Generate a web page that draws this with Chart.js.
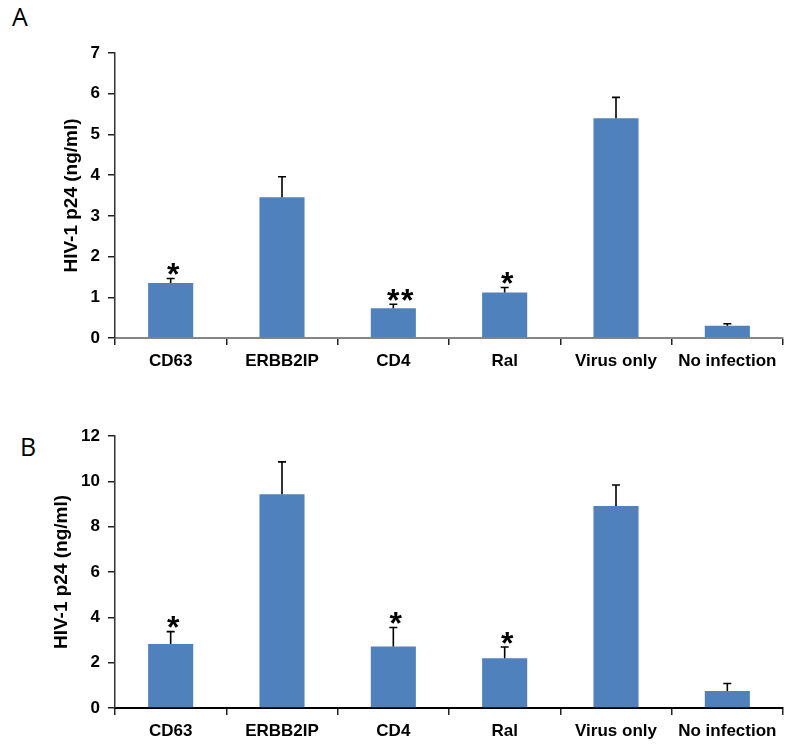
<!DOCTYPE html>
<html>
<head>
<meta charset="utf-8">
<script src="https://cdn.jsdelivr.net/npm/chart.js@4"></script>
<style>
  html, body { margin: 0; padding: 0; background: #fff; }
  body { width: 800px; height: 749px; position: relative; overflow: hidden; }
  .panel { position: absolute; left: 0; width: 800px; }
  .letter { position: absolute; font-family: "Open Sans", sans-serif; font-size: 25px; line-height: 25px; color: #000; }
</style>
</head>
<body>
<div class="letter" style="left:12px; top:4px;">A</div>
<div class="letter" style="left:20px; top:434px;">B</div>
<div class="panel" style="top:0; height:375px;"><canvas id="chartA" width="800" height="375"></canvas></div>
<div class="panel" style="top:375px; height:374px;"><canvas id="chartB" width="800" height="374"></canvas></div>
<script>
const categories = ["CD63", "ERBB2IP", "CD4", "Ral", "Virus only", "No infection"];
const valuesA = [1.35, 3.46, 0.73, 1.12, 5.40, 0.30];
const errorsA = [0.11, 0.50, 0.10, 0.12, 0.51, 0.05];
const starsA  = ["*", "", "**", "*", "", ""];
const valuesB = [2.82, 9.43, 2.71, 2.19, 8.91, 0.75];
const errorsB = [0.55, 1.43, 0.84, 0.50, 0.93, 0.33];
const starsB  = ["*", "", "*", "*", "", ""];
const yTitle = "HIV-1 p24 (ng/ml)";

const errPlugin = {
  id: 'errbars',
  afterDatasetsDraw(chart, args, opts) {
    const ctx = chart.ctx;
    const y = chart.scales.y;
    const meta = chart.getDatasetMeta(0);
    ctx.save();
    ctx.strokeStyle = '#000';
    ctx.lineWidth = 1.6;
    opts.values.forEach((v, i) => {
      const cx = meta.data[i].x;
      const y0 = y.getPixelForValue(v);
      const y1 = y.getPixelForValue(v + opts.errors[i]);
      ctx.beginPath();
      ctx.moveTo(cx, y0); ctx.lineTo(cx, y1);
      ctx.moveTo(cx - 4, y1); ctx.lineTo(cx + 4, y1);
      ctx.stroke();
      const s = opts.stars[i];
      if (s) {
        ctx.font = 'bold 32px "Liberation Sans", Arial, sans-serif';
        ctx.fillStyle = '#000';
        ctx.textAlign = 'center';
        const m = ctx.measureText('*');
        const bottom = y1 - 3.5;
        const baseline = bottom - m.actualBoundingBoxDescent;
        const chars = s.split('');
        const start = chars.length === 1 ? cx + 2.5 : cx;
        chars.forEach((c, k) => ctx.fillText(c, start + k * 14, baseline));
      }
    });
    ctx.restore();
  }
};

function makeChart(id, values, errors, stars, yMax, yStep, top, bottomH, xBorderColor, leftPad) {
  return new Chart(document.getElementById(id), {
    type: 'bar',
    data: {
      labels: categories,
      datasets: [{
        data: values,
        backgroundColor: '#4F81BD',
        borderWidth: 0,
        barPercentage: 0.405,
        categoryPercentage: 1.0
      }]
    },
    options: {
      responsive: false,
      animation: false,
      layout: { padding: { left: leftPad, right: 17, top: top, bottom: 0 } },
      plugins: {
        legend: { display: false },
        tooltip: { enabled: false },
        errbars: { values: values, errors: errors, stars: stars }
      },
      scales: {
        x: {
          grid: { display: true, drawOnChartArea: false, drawTicks: true, tickLength: 7, color: '#222', lineWidth: 1.5, offset: true },
          border: { display: true, color: xBorderColor, width: 2 },
          ticks: { color: '#000', font: { family: '"Liberation Sans", Arial, sans-serif', size: 17, weight: 'bold' }, padding: 6, maxRotation: 0, autoSkip: false },
          afterFit(s) { s.height = bottomH; }
        },
        y: {
          min: 0, max: yMax,
          ticks: { stepSize: yStep, color: '#000', font: { family: '"Liberation Sans", Arial, sans-serif', size: 17, weight: 'bold' }, padding: 8 },
          grid: { display: true, drawOnChartArea: false, drawTicks: true, tickLength: 7, color: '#222', lineWidth: 1.5 },
          border: { display: true, color: '#333', width: 1.5 },
          title: { display: true, text: yTitle, color: '#000', font: { family: '"Liberation Sans", Arial, sans-serif', size: 19, weight: 'bold' }, padding: { top: 4, bottom: 4 } },
          afterFit(s) { s.width = 115 - leftPad; }
        }
      }
    },
    plugins: [errPlugin]
  });
}

makeChart('chartA', valuesA, errorsA, starsA, 7, 1, 53, 37, '#858585', 56);
makeChart('chartB', valuesB, errorsB, starsB, 12, 2, 61, 41, '#000', 46);
</script>
</body>
</html>
